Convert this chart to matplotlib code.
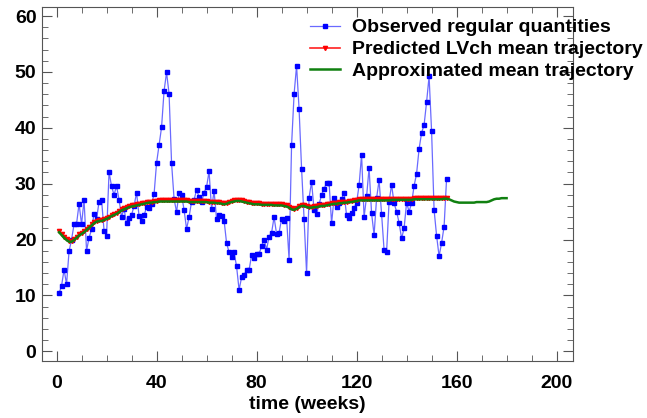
import matplotlib.pyplot as plt
from matplotlib.ticker import MultipleLocator

# observed weekly values, weeks 1..156
observed = [10.4, 11.7, 14.6, 12.0, 17.9, 20.0, 22.7, 22.8, 26.4, 22.7, 27.1, 18.0,
            20.3, 21.8, 24.6, 23.6, 26.8, 27.1, 21.6, 20.7, 32.1, 29.5, 28.0, 29.6,
            27.1, 24.1, 25.5, 22.9, 23.8, 24.4, 26.0, 28.4, 24.2, 23.3, 24.3, 25.8,
            25.6, 26.4, 28.1, 33.7, 36.9, 40.1, 46.6, 49.9, 46.1, 33.7, 27.3, 24.9,
            28.4, 28.0, 25.3, 21.9, 24.0, 26.8, 27.1, 28.9, 27.6, 26.7, 28.4, 29.4,
            32.2, 25.4, 28.7, 23.7, 24.4, 24.2, 23.4, 19.4, 17.7, 16.9, 17.7, 15.2,
            11.0, 13.2, 13.7, 14.5, 14.5, 17.2, 16.7, 17.4, 17.4, 18.8, 20.0, 18.2,
            20.5, 21.2, 24.0, 21.0, 21.2, 23.7, 23.3, 23.9, 16.4, 36.9, 46.0, 51.1,
            43.4, 32.7, 23.7, 14.0, 27.5, 30.3, 25.3, 24.6, 26.3, 28.0, 29.1, 30.1,
            30.2, 22.9, 27.5, 25.9, 26.6, 27.3, 28.3, 24.3, 23.8, 24.7, 25.6, 26.6,
            29.7, 35.2, 24.0, 27.7, 32.8, 24.7, 20.8, 27.4, 30.6, 24.6, 18.1, 17.7,
            26.8, 29.8, 26.5, 25.0, 23.0, 20.2, 22.0, 26.6, 25.0, 26.5, 29.6, 31.8,
            36.2, 39.1, 40.5, 44.6, 49.2, 39.4, 25.3, 20.7, 17.0, 19.4, 22.3, 30.9]

# predicted LVch mean trajectory, weeks 1..156
predicted = [21.5, 21.0, 20.5, 20.1, 19.8, 19.8, 20.1, 20.5, 20.9, 21.2, 21.5, 21.9,
             22.3, 22.7, 23.1, 23.4, 23.5, 23.5, 23.7, 23.9, 24.1, 24.4, 24.6, 24.8,
             25.1, 25.4, 25.6, 25.8, 26.0, 26.1, 26.2, 26.3, 26.4, 26.5, 26.6, 26.7,
             26.8, 26.8, 26.9, 26.9, 27.0, 27.0, 27.0, 27.0, 27.0, 27.0, 27.0, 27.0,
             27.0, 27.0, 27.0, 27.0, 26.9, 26.9, 26.9, 26.9, 26.9, 26.9, 26.9, 26.9,
             26.8, 26.8, 26.8, 26.7, 26.7, 26.6, 26.5, 26.6, 26.8, 26.9, 27.0, 27.1,
             27.1, 27.0, 26.9, 26.8, 26.7, 26.6, 26.5, 26.5, 26.5, 26.4, 26.4, 26.4,
             26.4, 26.4, 26.3, 26.3, 26.3, 26.3, 26.2, 26.1, 25.9, 25.6, 25.5, 25.7,
             26.0, 26.2, 26.2, 26.0, 25.9, 25.9, 26.0, 26.0, 26.1, 26.2, 26.2, 26.3,
             26.4, 26.5, 26.6, 26.6, 26.7, 26.7, 26.8, 26.8, 26.9, 26.9, 27.0, 27.1,
             27.2, 27.2, 27.2, 27.2, 27.2, 27.2, 27.2, 27.2, 27.2, 27.2, 27.2, 27.2,
             27.2, 27.3, 27.3, 27.3, 27.3, 27.3, 27.3, 27.3, 27.3, 27.3, 27.4, 27.4,
             27.4, 27.4, 27.4, 27.4, 27.4, 27.4, 27.4, 27.4, 27.4, 27.4, 27.5, 27.5]

# approximated mean trajectory, weeks 1..180
approximated = [21.3, 20.8, 20.3, 19.9, 19.6, 19.6, 19.9, 20.3, 20.7, 21.0, 21.3, 21.7,
                22.1, 22.5, 22.9, 23.2, 23.3, 23.3, 23.5, 23.7, 23.9, 24.2, 24.4, 24.6,
                24.9, 25.2, 25.4, 25.6, 25.8, 25.9, 26.0, 26.1, 26.2, 26.3, 26.4, 26.5,
                26.6, 26.6, 26.7, 26.7, 26.8, 26.8, 26.8, 26.8, 26.8, 26.8, 26.8, 26.8,
                26.8, 26.8, 26.8, 26.8, 26.7, 26.7, 26.7, 26.7, 26.7, 26.7, 26.7, 26.7,
                26.6, 26.6, 26.6, 26.5, 26.5, 26.4, 26.3, 26.4, 26.6, 26.7, 26.8, 26.9,
                26.9, 26.8, 26.7, 26.6, 26.5, 26.4, 26.3, 26.3, 26.3, 26.2, 26.2, 26.2,
                26.2, 26.2, 26.1, 26.1, 26.1, 26.1, 26.0, 25.9, 25.7, 25.4, 25.3, 25.5,
                25.8, 26.0, 26.0, 25.8, 25.7, 25.7, 25.8, 25.8, 25.9, 26.0, 26.0, 26.1,
                26.2, 26.3, 26.4, 26.4, 26.5, 26.5, 26.6, 26.6, 26.7, 26.7, 26.8, 26.9,
                27.0, 27.0, 27.0, 27.0, 27.0, 27.0, 27.0, 27.0, 27.0, 27.0, 27.0, 27.0,
                27.0, 27.1, 27.1, 27.1, 27.1, 27.1, 27.1, 27.1, 27.1, 27.1, 27.2, 27.2,
                27.2, 27.2, 27.2, 27.2, 27.2, 27.2, 27.2, 27.2, 27.2, 27.2, 27.3, 27.3,
                27.2, 27.0, 26.8, 26.7, 26.6, 26.6, 26.6, 26.6, 26.6, 26.6, 26.6, 26.7,
                26.7, 26.7, 26.7, 26.7, 26.8, 27.0, 27.2, 27.3, 27.3, 27.4, 27.4, 27.4]

weeks_obs = list(range(1, len(observed) + 1))
weeks_pred = list(range(1, len(predicted) + 1))
weeks_appr = list(range(1, len(approximated) + 1))

plt.rcParams['font.family'] = ['Liberation Sans', 'DejaVu Sans']
plt.rcParams['font.weight'] = 'bold'

fig = plt.figure(figsize=(6.47, 4.18), dpi=100)
ax = fig.add_axes([0.065, 0.137, 0.820, 0.846])

ax.plot(weeks_obs, observed, color='#6a6aff', lw=0.9, marker='s', markersize=3.4,
        markerfacecolor='#0000ff', markeredgecolor='#0000ff',
        label='Observed regular quantities')
ax.plot(weeks_pred, predicted, color='#ff2020', lw=1.2, marker='v', markersize=3,
        markerfacecolor='#ff0000', markeredgecolor='#ff0000',
        label='Predicted LVch mean trajectory')
ax.plot(weeks_appr, approximated, color='#108010', lw=1.8,
        label='Approximated mean trajectory')

ax.set_xlim(-5.8, 206.4)
ax.set_ylim(-1.7, 61.6)
ax.xaxis.set_major_locator(MultipleLocator(40))
ax.xaxis.set_minor_locator(MultipleLocator(10))
ax.yaxis.set_major_locator(MultipleLocator(10))
ax.yaxis.set_minor_locator(MultipleLocator(2))
ax.tick_params(which='both', direction='in', top=True, right=True, color='#555555',
               labelsize=14)
ax.tick_params(axis='x', pad=10)
ax.tick_params(axis='y', pad=4)
ax.tick_params(which='major', length=7)
ax.tick_params(which='minor', length=4)
for s in ax.spines.values():
    s.set_color('#555555')

for lab in ax.get_xticklabels() + ax.get_yticklabels():
    lab.set_fontweight('bold')

ax.set_xlabel('time (weeks)', fontsize=14, fontweight='bold', labelpad=3)

fig.legend(loc='upper left', bbox_to_anchor=(0.479, 0.955), frameon=False,
           prop={'weight': 'bold', 'size': 14}, handlelength=1.55,
           handletextpad=0.62, labelspacing=0.22, borderaxespad=0, borderpad=0)

fig.savefig('out.png', dpi=100)
